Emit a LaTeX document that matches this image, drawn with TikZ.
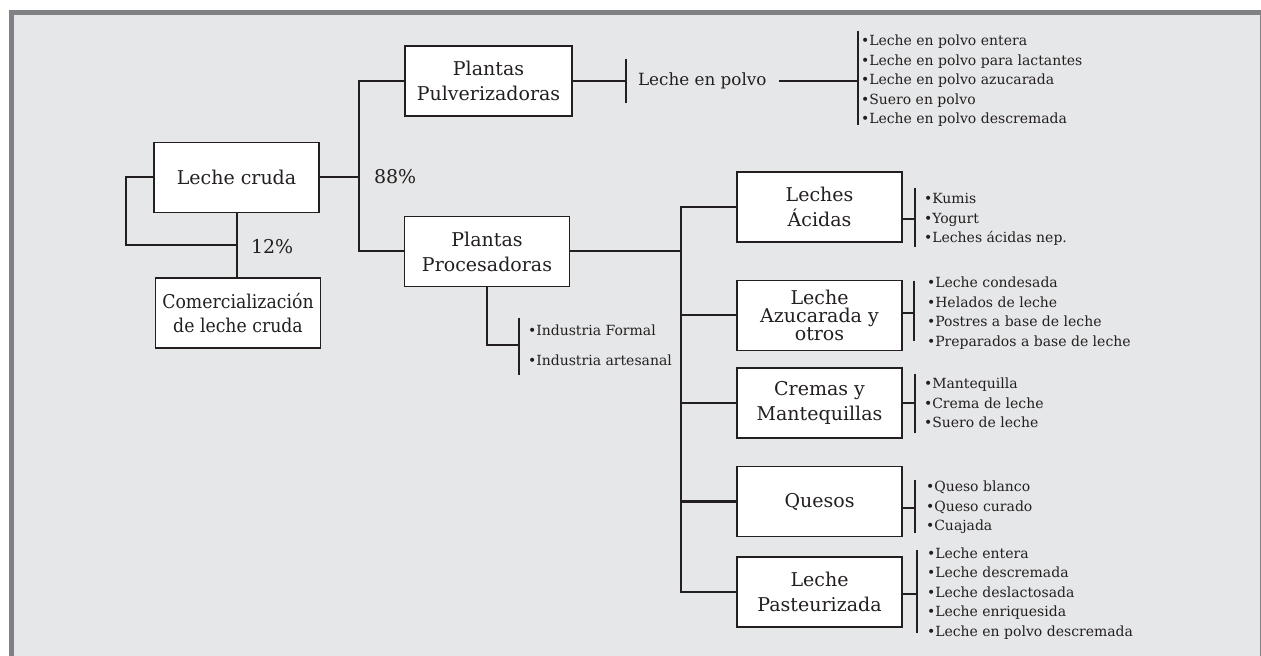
\documentclass[tikz,border=0pt]{standalone}
\usepackage{fontspec}
\setmainfont{DejaVu Serif}
\newfontfamily\estrecha[FakeStretch=0.91]{DejaVu Serif}
\definecolor{marco}{HTML}{808184}
\definecolor{fondo}{HTML}{E6E7E8}
\definecolor{trazo}{HTML}{231F20}
\tikzset{
  caja/.style={draw=trazo, fill=white, line width=0.9pt, align=center, inner sep=0pt,
    minimum width=82.5pt, minimum height=35pt, font=\fontsize{9.5}{12.5}\selectfont},
  lista/.style={anchor=west, align=left, inner xsep=4pt, inner ysep=0pt,
    font=\fontsize{7}{9.75}\selectfont},
  rotulo/.style={anchor=west, inner sep=0pt, font=\fontsize{9.5}{12}\selectfont},
}
\begin{document}
\begin{tikzpicture}[x=0.5pt, y=-0.5pt, line width=1pt, color=trazo]
% fondo y marco
\fill[white] (0,0) rectangle (1261,656);
\fill[marco] (9,10) rectangle (1261,656);
\fill[fondo] (14,15) rectangle (1259.5,656);
\useasboundingbox (0,0) rectangle (1261,656);

\node[caja] (cruda) at (236.5,177.5) {Leche cruda};
\node[caja, font=\estrecha\fontsize{9.5}{12}\selectfont] (comerc) at (238,313) {Comercialización\\de leche cruda};
\node[caja, minimum width=83.5pt] (pulv) at (488.5,81) {Plantas\\Pulverizadoras};
\node[caja] (proc) at (487,251.5) {Plantas\\Procesadoras};
\node[caja] (acidas) at (819.5,207) {Leches\\Ácidas};
\node[caja, font=\fontsize{9.5}{9}\selectfont] (azuc) at (819.5,315.5) {Leche\\Azucarada y\\otros};
\node[caja] (cremas) at (819.5,403) {Cremas y\\Mantequillas};
\node[caja] (quesos) at (819.5,501.5) {Quesos};
\node[caja] (pasteur) at (819.5,592) {Leche\\Pasteurizada};

\node[rotulo] (p88) at (373,177) {88\%};
\node[rotulo] (p12) at (250,247) {12\%};
\node[rotulo, inner xsep=5.5pt, font=\fontsize{8.4}{10}\selectfont] (polvo) at (626,81) {Leche en polvo};

% listas
\node[lista, inner xsep=1pt] (lpolvo) at (858,81) {•Leche en polvo entera\\•Leche en polvo para lactantes\\•Leche en polvo azucarada\\•Suero en polvo\\•Leche en polvo descremada};
\node[lista, font=\fontsize{7}{15}\selectfont] (lind) at (519,345) {•Industria Formal\\•Industria artesanal};
\node[lista] (lacidas) at (915,219.5) {•Kumis\\•Yogurt\\•Leches ácidas nep.};
\node[lista, inner xsep=6pt] (lazuc) at (914,313) {•Leche condesada\\•Helados de leche\\•Postres a base de leche\\•Preparados a base de leche};
\node[lista] (lcremas) at (915,403) {•Mantequilla\\•Crema de leche\\•Suero de leche};
\node[lista, inner xsep=5pt] (lquesos) at (915,507.5) {•Queso blanco\\•Queso curado\\•Cuajada};
\node[lista, inner xsep=4.5pt] (lpasteur) at (917,593.5) {•Leche entera\\•Leche descremada\\•Leche deslactosada\\•Leche enriquesida\\•Leche en polvo descremada};

% leche cruda
\draw (cruda.south) -- (cruda.south |- comerc.north);
\coordinate (j12) at (237.5,245);
\draw (cruda.west) -- ++(-27,0) |- (j12);
\coordinate (s1) at (359,177.5);
\draw (cruda.east) -- (s1);
\draw (pulv.west) -| (s1) |- (proc.west);

% leche en polvo
\draw (pulv.east) -- (polvo.west);
\draw (polvo.west) ++(0,-22) -- ++(0,44);
\draw (polvo.east) -- (lpolvo.west);
\draw (lpolvo.west) ++(0,-50) -- ++(0,94);

% procesadoras
\draw (proc.south) |- (lind.west);
\draw (lind.west) ++(0,-27) -- ++(0,57);
\coordinate (s2) at (681,251.5);
\draw (proc.east) -- (s2);
\draw (acidas.west) -| (s2) |- (pasteur.west);
\draw (s2 |- azuc.west) -- (azuc.west);
\draw (s2 |- cremas.west) -- (cremas.west);
\draw (s2 |- quesos.west) -- (quesos.west);

% productos
\draw (acidas.east |- lacidas.west) -- (lacidas.west);
\draw (lacidas.west) ++(0,-31.5) -- ++(0,59);
\draw (azuc.east |- lazuc.west) -- (lazuc.west);
\draw (lazuc.west) ++(0,-32) -- ++(0,60);
\draw (cremas.east |- lcremas.west) -- (lcremas.west);
\draw (lcremas.west) ++(0,-29) -- ++(0,59);
\draw (quesos.east |- lquesos.west) -- (lquesos.west);
\draw (lquesos.west) ++(0,-27.5) -- ++(0,53);
\draw (pasteur.east |- lpasteur.west) -- (lpasteur.west);
\draw (lpasteur.west) ++(0,-43.5) -- ++(0,83);
\end{tikzpicture}
\end{document}
